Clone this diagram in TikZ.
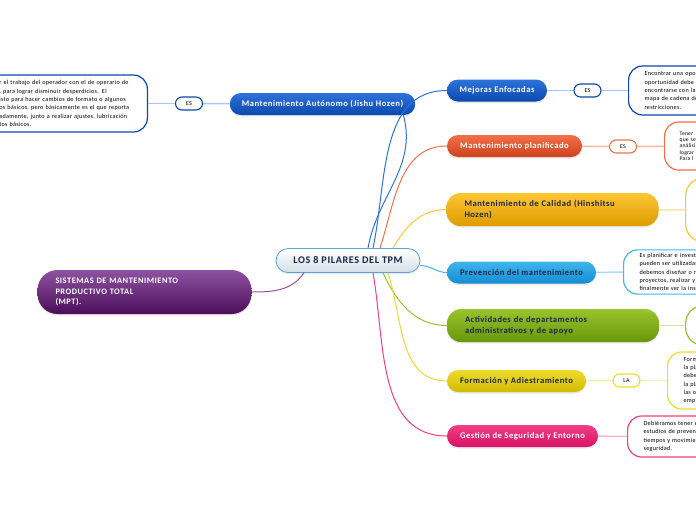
\documentclass[tikz,border=0pt]{standalone}
\usepackage{fontspec}
\setmainfont{Carlito}
\newfontfamily\spaced{Carlito}[LetterSpace=6]
\newfontfamily\notefont{Carlito}[LetterSpace=4]
\usetikzlibrary{shadows}

% branch colours (top / bottom of the shading, light for the links)
\definecolor{blueA}{RGB}{45,115,220}
\definecolor{blueB}{RGB}{12,72,172}
\definecolor{redA}{RGB}{242,112,72}
\definecolor{redB}{RGB}{206,66,30}
\definecolor{goldA}{RGB}{252,198,52}
\definecolor{goldB}{RGB}{222,156,0}
\definecolor{skyA}{RGB}{64,182,236}
\definecolor{skyB}{RGB}{20,140,210}
\definecolor{greenA}{RGB}{152,196,44}
\definecolor{greenB}{RGB}{104,150,10}
\definecolor{yelA}{RGB}{238,218,44}
\definecolor{yelB}{RGB}{210,188,0}
\definecolor{pinkA}{RGB}{242,62,132}
\definecolor{pinkB}{RGB}{214,18,100}
\definecolor{purA}{RGB}{142,82,162}
\definecolor{purB}{RGB}{74,14,90}
\definecolor{cenline}{RGB}{92,162,222}
\definecolor{cengray}{RGB}{212,222,232}
\definecolor{navy}{RGB}{28,38,70}

\tikzset{
  topic/.style={rounded corners=11pt, minimum height=22pt, inner xsep=12pt,
    font=\spaced\bfseries\fontsize{8.6}{10.5}\selectfont,
    drop shadow={opacity=0.18, shadow xshift=0pt, shadow yshift=-1.5pt}},
  twoline/.style={text width=176pt, inner xsep=18pt, align=left,
    minimum height=33pt, rounded corners=14pt},
  pill/.style={draw, fill=white, line width=1.1pt, rounded corners=6.5pt,
    minimum width=27pt, minimum height=13pt, inner sep=0pt,
    font=\notefont\fontsize{6}{6}\selectfont},
  note/.style={draw, fill=white, line width=1.2pt, rounded corners=14pt,
    inner xsep=16pt, align=left, font=\notefont\fontsize{6.2}{8.3}\selectfont},
  branch/.style={line width=1pt},
  link/.style={line width=1.5pt},
}

\begin{document}
\begin{tikzpicture}[x=1pt,y=-1pt]
  \useasboundingbox (0,0) rectangle (696,520);
  \clip (0,0) rectangle (696,520);

  % centre and root
  \node[topic, draw=cenline, line width=0.8pt, top color=white, bottom color=cengray,
        text=navy, minimum width=144pt, minimum height=24pt, rounded corners=12pt,
        font=\spaced\bfseries\fontsize{10.2}{12}\selectfont]
        (cen) at (348,260.5) {LOS 8 PILARES DEL TPM};
  \node[topic, twoline, text width=178pt, minimum height=44pt, rounded corners=20pt,
        top color=purA, bottom color=purB, text=white,
        font=\spaced\bfseries\fontsize{8.4}{10.5}\selectfont]
        (sis) at (144.5,292) {SISTEMAS DE MANTENIMIENTO\\PRODUCTIVO TOTAL\\(MPT).};

  % pillars
  \node[topic, top color=blueA, bottom color=blueB, text=white, minimum width=185pt]
        (auto) at (322.5,104) {Mantenimiento Autónomo (Jishu Hozen)};
  \node[topic, top color=blueA, bottom color=blueB, text=white, minimum width=100pt]
        (mej) at (497,90.5) {Mejoras Enfocadas};
  \node[topic, top color=redA, bottom color=redB, text=white, minimum width=135pt]
        (pla) at (514.5,146) {Mantenimiento planificado};
  \node[topic, twoline, top color=goldA, bottom color=goldB, text=navy]
        (cal) at (552.5,209.5) {Mantenimiento de Calidad (Hinshitsu\\Hozen)};
  \node[topic, top color=skyA, bottom color=skyB, text=navy, minimum width=149pt]
        (pre) at (521.5,272.5) {Prevención del mantenimiento};
  \node[topic, twoline, top color=greenA, bottom color=greenB, text=navy]
        (act) at (553,325.5) {Actividades de departamentos\\administrativos y de apoyo};
  \node[topic, top color=yelA, bottom color=yelB, text=navy, minimum width=139pt]
        (for) at (516.5,381) {Formación y Adiestramiento};
  \node[topic, top color=pinkA, bottom color=pinkB, text=white, minimum width=151pt]
        (ges) at (522.5,436) {Gestión de Seguridad y Entorno};

  % links from the centre
  \draw[branch, purA] (sis.east) to[out=0,in=-125] ([xshift=-44pt]cen.south);
  \draw[branch, blueA] ([xshift=20pt]cen.north) to[out=80,in=-75] ([xshift=-12pt]auto.south east);
  \draw[branch, blueA] ([xshift=25pt]cen.north) to[out=78,in=180] (mej.west);
  \draw[branch, redA] ([xshift=32pt]cen.north) to[out=72,in=180] (pla.west);
  \draw[branch, goldA] ([xshift=45pt]cen.north) to[out=60,in=180] (cal.west);
  \draw[branch, skyA] ([yshift=-5pt]cen.east) to[out=0,in=180] (pre.west);
  \draw[branch, greenA] ([xshift=35pt]cen.south) to[out=-65,in=180] (act.west);
  \draw[branch, yelA] ([xshift=40pt]cen.south) to[out=-72,in=180] (for.west);
  \draw[branch, pinkA] ([xshift=25pt]cen.south) to[out=-80,in=180] (ges.west);

  % labels and notes
  \node[pill, draw=blueB] (autoes) at (189,103.5) {ES};
  \node[note, draw=blueB, anchor=east, text width=133pt, inner xsep=15pt, minimum height=57pt]
        (autod) at (148,103.5) {r el trabajo del operador con el de operario de\\, para lograr disminuir desperdicios. El\\isto para hacer cambios de formato o algunos\\os básicos, pero básicamente es el que reporta\\adamente, junto a realizar ajustes, lubricación\\tos básicos.};
  \node[pill, draw=blueB] (mejes) at (587.5,90.5) {ES};
  \node[note, draw=blueB, anchor=west, text width=100pt, minimum height=49pt]
        (mejd) at (628,90.5) {Encontrar una opo\\oportunidad debe s\\encontrarse con la\\mapa de cadena de\\restricciones.};
  \node[pill, draw=redA] (plaes) at (623,146.5) {ES};
  \node[note, draw=redA, anchor=west, text width=60pt, minimum height=48pt,
        inner xsep=15pt, font=\notefont\fontsize{5.6}{6.3}\selectfont]
        (plad) at (664,146) {Tener\\que se\\análisi\\lograr\\Para l};
  \node[note, draw=goldA, anchor=west, minimum width=60pt, minimum height=64pt,
        rounded corners=18pt] (cald) at (685,210) {};
  \node[note, draw=skyA, anchor=west, text width=100pt, minimum height=44pt]
        (pred) at (623,272) {Es planificar e invest\\pueden ser utilizadas\\debemos diseñar o r\\proyectos, realizar y\\finalmente ver la insta};
  \node[note, draw=greenA, anchor=west, minimum width=60pt, minimum height=40pt,
        rounded corners=18pt] (actd) at (685,325.5) {};
  \node[pill, draw=yelA] (fores) at (626.5,380.5) {LA};
  \node[note, draw=yelA, anchor=west, text width=60pt, minimum height=57pt]
        (ford) at (667,380.5) {Form\\la pla\\debe\\la pla\\las o\\empl};
  \node[note, draw=pinkA, anchor=west, text width=100pt, minimum height=41pt]
        (gesd) at (627,436.5) {Debiéramos tener e\\estudios de preven\\tiempos y movimien\\seguridad.};

  % light links to labels and notes
  \draw[link, blueA!40] (autod) -- (autoes);
  \draw[link, blueA!40] (autoes) -- (auto);
  \draw[link, blueA!40] (mej) -- (mejes);
  \draw[link, blueA!40] (mejes) -- (mejd);
  \draw[link, redA!50] (pla) -- (plaes);
  \draw[link, redA!50] (plaes) -- (plad);
  \draw[link, goldA!45] (cal) -- (cald);
  \draw[link, skyA!45] (pre) -- (pred);
  \draw[link, greenA!40] (act) -- (actd);
  \draw[link, yelA!45] (for) -- (fores);
  \draw[link, yelA!45] (fores) -- (ford);
  \draw[link, pinkA!40] (ges) -- (gesd);
\end{tikzpicture}
\end{document}
